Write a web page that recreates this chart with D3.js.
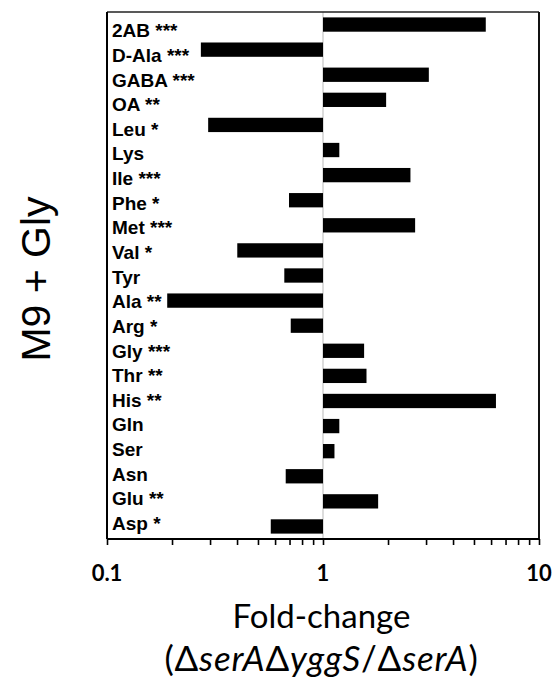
<!DOCTYPE html>
<html><head><meta charset="utf-8">
<script src="https://cdn.jsdelivr.net/npm/d3@7"></script>
<style>body{margin:0;background:#fff}svg{display:block}</style>
</head><body>
<script>
const categories = ["2AB","D-Ala","GABA","OA","Leu","Lys","Ile","Phe","Met","Val","Tyr","Ala","Arg","Gly","Thr","His","Gln","Ser","Asn","Glu","Asp"];
const significance = ["***","***","***","**","*","","***","*","***","*","","**","*","***","**","**","","","","**","*"];
const foldChange = [5.67,0.272,3.09,1.96,0.294,1.19,2.54,0.696,2.67,0.401,0.662,0.190,0.709,1.55,1.59,6.32,1.19,1.13,0.672,1.80,0.573];
const majorTicks = [0.1,1,10];
const minorTicks = [0.2,0.3,0.4,0.5,0.6,0.7,0.8,0.9,2,3,4,5,6,7,8,9];
const tickLabels = ["0.1","1","10"];

(function(){
const W=554,H=682;
const svg=d3.select("body").append("svg").attr("width",W).attr("height",H);
const pL=107,pR=539,pT=12,pB=539;
const x=d3.scaleLog().domain([0.1,10]).range([pL,pR]);
const y=d3.scaleBand().domain(categories).range([pT,pB]).paddingInner(0.43).paddingOuter(0.215);
const yl=d3.scalePoint().domain(categories).range([37.3,530]);

// reference line at 1
svg.append("line").attr("x1",x(1)).attr("x2",x(1)).attr("y1",pT).attr("y2",pB)
  .attr("stroke","#d4d4d4").attr("stroke-width",1.6);

// bars
svg.append("g").selectAll("rect").data(categories).join("rect")
  .attr("x",(d,i)=>Math.min(x(1),x(foldChange[i])))
  .attr("width",(d,i)=>Math.abs(x(foldChange[i])-x(1)))
  .attr("y",d=>y(d)).attr("height",y.bandwidth()).attr("fill","#000");

// frame
svg.append("line").attr("x1",pL).attr("x2",pR).attr("y1",pT).attr("y2",pT).attr("stroke","#222").attr("stroke-width",1.6);
svg.append("line").attr("x1",pL).attr("x2",pL).attr("y1",pT).attr("y2",pB).attr("stroke","#000").attr("stroke-width",2);
svg.append("line").attr("x1",pR).attr("x2",pR).attr("y1",pT).attr("y2",pB).attr("stroke","#111").attr("stroke-width",2);

// x axis
const ax=svg.append("g").attr("transform",`translate(0,${pB})`)
  .call(d3.axisBottom(x).tickValues(majorTicks.concat(minorTicks)).tickSize(6).tickFormat(""));
ax.select(".domain").attr("stroke","#000").attr("stroke-width",2.2).attr("d",`M${pL},0H${pR}`);
ax.selectAll(".tick line").attr("stroke","#000").attr("stroke-width",1.6);
svg.append("g").selectAll("text").data(majorTicks).join("text")
  .attr("x",d=>x(d)).attr("y",581).attr("text-anchor","middle")
  .attr("font-family","Lato").attr("font-weight",700).attr("font-size",22).attr("fill","#000")
  .text((d,i)=>tickLabels[i]);

// category labels
svg.append("g").selectAll("text").data(categories).join("text")
  .attr("x",112).attr("y",d=>yl(d))
  .attr("font-family","Liberation Sans, Arial").attr("font-weight",700).attr("font-size",19).attr("fill","#000")
  .text((d,i)=>d+(significance[i]?" "+significance[i]:""));

// y title
svg.append("text").attr("transform","translate(50,279) rotate(-90)").attr("text-anchor","middle")
  .attr("font-family","Liberation Sans, Arial").attr("font-size",41).attr("fill","#000").text("M9 + Gly");

// x title
svg.append("text").attr("x",321.5).attr("y",628).attr("text-anchor","middle")
  .attr("font-family","Lato").attr("font-size",33).attr("fill","#000").text("Fold-change");
const t2=svg.append("text").attr("x",321.5).attr("y",671).attr("text-anchor","middle")
  .attr("font-family","Lato").attr("font-size",35).attr("letter-spacing",0.8).attr("fill","#000");
const parts=[["(Δ",false],["serA",true],["Δ",false],["yggS",true],["/Δ",false],["serA",true],[")",false]];
parts.forEach(p=>t2.append("tspan").attr("font-style",p[1]?"italic":"normal").text(p[0]));
})();
</script>
</body></html>
